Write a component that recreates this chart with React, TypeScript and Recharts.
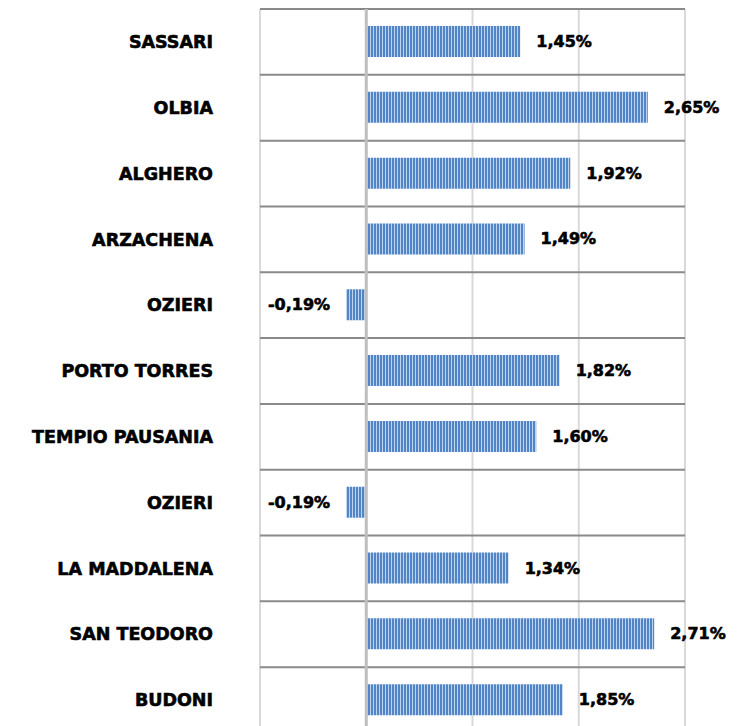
import { Bar, BarChart, CartesianGrid, LabelList, ReferenceLine, XAxis, YAxis } from "recharts";

const cities = [
  "SASSARI",
  "OLBIA",
  "ALGHERO",
  "ARZACHENA",
  "OZIERI",
  "PORTO TORRES",
  "TEMPIO PAUSANIA",
  "OZIERI",
  "LA MADDALENA",
  "SAN TEODORO",
  "BUDONI",
];
const growth = [1.45, 2.65, 1.92, 1.49, -0.19, 1.82, 1.6, -0.19, 1.34, 2.71, 1.85];
const xTicks = [-1, 0, 1, 2, 3];

const data = cities.map((name, i) => ({ name, value: growth[i] }));

const fmt = (v: number) => v.toFixed(2).replace(".", ",") + "%";

// row boundaries instead of row centres
const rowLines = ({ offset }: any) =>
  cities.map((_, i) => i).concat(cities.length).map((i) => offset.top + (i * offset.height) / cities.length);

const ValueLabel = (props: any) => {
  const { x, y, width, height, value } = props;
  const left = Math.min(x, x + width);
  const right = Math.max(x, x + width);
  const neg = value < 0;
  return (
    <text
      x={neg ? left - 16 : right + 16}
      y={y + height / 2}
      textAnchor={neg ? "end" : "start"}
      dominantBaseline="central"
      fontFamily="DejaVu Sans"
      fontWeight="bold"
      fontSize={16}
      fill="#000"
      stroke="#000"
      strokeWidth={0.6}
    >
      {fmt(value)}
    </text>
  );
};

export default function App() {
  return (
    <BarChart
      width={736}
      height={740}
      data={data}
      layout="vertical"
      margin={{ top: 1, right: 59, left: 0, bottom: 15 }}
    >
      <defs>
        <pattern id="stripes" patternUnits="userSpaceOnUse" width={3} height={10}>
          <rect x={0} y={0} width={3} height={10} fill="#5185c6" />
          <rect x={2} y={0} width={1} height={10} fill="#bdd3ef" />
        </pattern>
      </defs>
      <XAxis type="number" domain={[-1, 3]} ticks={xTicks} hide />
      <YAxis
        type="category"
        dataKey="name"
        width={252}
        axisLine={false}
        tickLine={false}
        tickSize={0}
        tickMargin={47}
        interval={0}
        tick={{
          fill: "#000",
          stroke: "#000",
          strokeWidth: 0.6,
          fontFamily: "DejaVu Sans",
          fontWeight: "bold",
          fontSize: 17.5,
        }}
      />
      <CartesianGrid horizontal={false} stroke="#d9d9d9" strokeWidth={2} />
      <CartesianGrid
        vertical={false}
        horizontalCoordinatesGenerator={rowLines}
        stroke="#8a8a8a"
        strokeWidth={2}
      />
      <Bar dataKey="value" fill="url(#stripes)" barSize={31} isAnimationActive={false}>
        <LabelList dataKey="value" content={ValueLabel} />
      </Bar>
      <ReferenceLine x={0} stroke="#bfbfbf" strokeWidth={3} />
    </BarChart>
  );
}
